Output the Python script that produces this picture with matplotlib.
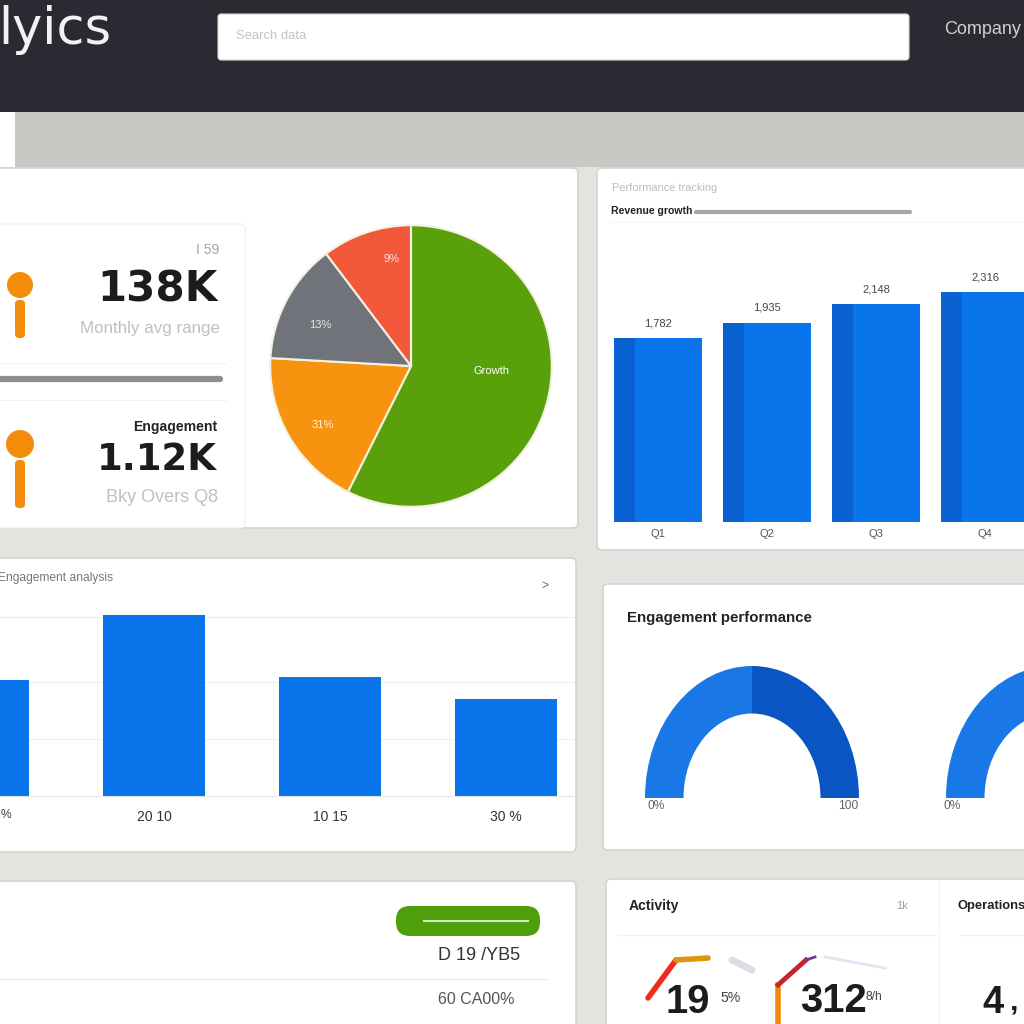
import math
import matplotlib
matplotlib.use("Agg")
import matplotlib.pyplot as plt
from matplotlib.patches import Rectangle, FancyBboxPatch, Circle

plt.rcParams['font.family'] = ['Liberation Sans', 'DejaVu Sans']

# ---- data ----
pie_labels = ["Growth", "31%", "13%", "9%"]
pie_values = [57.4, 18.5, 13.8, 10.3]
pie_colors = ["#5aa00a", "#f7930f", "#70747a", "#f2583a"]

top_bar_values = [184, 199, 218, 230]
top_bar_labels = ["1,782", "1,935", "2,148", "2,316"]
top_bar_ticks = ["Q1", "Q2", "Q3", "Q4"]

mid_bar_values = [116, 181, 119, 97]
mid_bar_ticks = ["", "20 10", "10 15", "30 %"]

gauge_values = [50, 50, 100]
gauge_colors = ["#1a78e6", "#0a55c4", "none"]

BLUE = "#0a74ea"
DARK_BLUE = "#0a62d2"
INK = "#1c1c1e"
GREY = "#a9a9a9"
DJ = "DejaVu Sans"

W = 1024
fig = plt.figure(figsize=(10.24, 10.24), dpi=100, facecolor="#e5e3e0")
bg = fig.add_axes([0, 0, 1, 1])
bg.set_xlim(0, W)
bg.set_ylim(W, 0)
bg.axis("off")


def inset(x0, y0, x1, y1):
    """Axes placed by its pixel box (top-left origin)."""
    ax = fig.add_axes([x0 / W, 1 - y1 / W, (x1 - x0) / W, (y1 - y0) / W])
    ax.patch.set_alpha(0)
    return ax


def panel(x0, y0, x1, y1, ec="#d4d3d0", lw=1.2, fc="white", r=5):
    bg.add_patch(FancyBboxPatch((x0, y0), x1 - x0, y1 - y0,
                                boxstyle=f"round,pad=0,rounding_size={r}",
                                fc=fc, ec=ec, lw=lw))


def label(x, y, s, px=11, color=GREY, ha="left", weight="normal", family=None):
    kw = {"family": family} if family else {}
    bg.text(x, y, s, fontsize=px * 0.72, color=color, ha=ha, va="center",
            fontweight=weight, **kw)


def pin(x, y0, y1, y2, r):
    bg.add_patch(FancyBboxPatch((x - 5, y1), 10, y2 - y1,
                                boxstyle="round,pad=0,rounding_size=4",
                                fc="#f28c0a", ec="none"))
    bg.add_patch(Circle((x, y0), r, fc="#f28c0a", ec="none"))


# header and band
bg.add_patch(Rectangle((0, 0), W, 112, fc="#2a2a33", ec="none"))
bg.add_patch(Rectangle((0, 112), W, 55, fc="#c9c8c4", ec="none"))
bg.add_patch(Rectangle((0, 112), 15, 55, fc="white", ec="none"))
bg.add_patch(FancyBboxPatch((218, 14), 691, 46, boxstyle="round,pad=0,rounding_size=3",
                            fc="white", ec="#d8d8d8", lw=0.8))
label(-2, 30, "lyics", px=51, color="#f2f2f2", family=DJ)
label(236, 36, "Search data", px=13, color="#c4c4c4")
label(944, 30, "Company", px=18, color="#d0d0d0")

# panels
panel(-8, 168, 578, 528)
panel(597, 168, 1040, 550)
panel(-8, 558, 576, 852)
panel(603, 584, 1040, 850)
panel(-8, 881, 576, 1040)
panel(606, 879, 1040, 1040)

# KPI cards
panel(-8, 224, 245, 528, ec="#f0f0f0", lw=0.8)
bg.plot([0, 226], [363, 363], color="#f2f2f2", lw=0.8)
bg.plot([0, 226], [400, 400], color="#f2f2f2", lw=0.8)
bg.plot([0, 220], [379, 379], color="#8e8e8e", lw=4.5, solid_capstyle="round")
pin(20, 285, 300, 338, 13)
pin(20, 444, 460, 508, 14)
label(219, 250, "I 59", px=14, color="#a5a5a5", ha="right")
label(218, 289, "138K", px=42, color=INK, ha="right", weight="bold", family=DJ)
label(220, 328, "Monthly avg range", px=17, color="#c0c0c0", ha="right")
label(217, 427, "Engagement", px=14, color="#222222", ha="right", weight="bold")
label(217, 459, "1.12K", px=37, color=INK, ha="right", weight="bold", family=DJ)
label(218, 497, "Bky Overs Q8", px=18, color="#c0c0c0", ha="right")

# pie
ax = inset(265, 221, 557, 511)
wedges, _, = ax.pie(pie_values, colors=pie_colors, startangle=90, counterclock=False,
                    radius=1.0, wedgeprops=dict(edgecolor="#f3f1e4", linewidth=1.5))
ax.set_xlim(-1.035, 1.035)
ax.set_ylim(-1.03, 1.03)
offsets = [(-0.03, 0.11), (-0.09, -0.11), (-0.10, 0.0), (0.06, 0.17)]
for w, s, (dx, dy), c in zip(wedges, pie_labels, offsets,
                             ["white", "#fff2d6", "#e8e8e8", "#ffe6df"]):
    a = math.radians((w.theta1 + w.theta2) / 2)
    ax.text(0.62 * math.cos(a) + dx, 0.62 * math.sin(a) + dy, s,
            fontsize=8, color=c, ha="center", va="center")

# top right bars
label(612, 188, "Performance tracking", px=11, color="#bdbdbd")
label(611, 211, "Revenue growth", px=10.5, color="#222222", weight="bold")
bg.plot([696, 910], [212, 212], color="#a6a6a6", lw=3, solid_capstyle="round")
bg.plot([610, 1024], [222, 222], color="#f4f4f4", lw=1)

ax = inset(603, 240, 1040, 522)
xs = list(range(len(top_bar_values)))
ax.bar(xs, top_bar_values, width=0.8, color=BLUE)
ax.bar([x - 0.4 for x in xs], top_bar_values, width=0.19, align="edge", color=DARK_BLUE)
ax.set_xlim(-0.505, 3.505)
ax.set_ylim(0, 282)
for s in ax.spines.values():
    s.set_visible(False)
ax.set_yticks([])
ax.set_xticks(xs, top_bar_ticks, fontsize=8, color="#555555")
ax.tick_params(length=0, pad=5)
for x, v, s in zip(xs, top_bar_values, top_bar_labels):
    ax.text(x, v + 15, s, fontsize=8, color="#444444", ha="center", va="center")

# middle left bars
label(-2, 578, "Engagement analysis", px=12, color="#777777")
label(548, 586, ">", px=12, color="#666666", ha="right")
ax = inset(-109, 590, 575, 796)
xs = list(range(len(mid_bar_values)))
ax.bar(xs, mid_bar_values, width=0.575, color=BLUE, zorder=3)
ax.set_xlim(-0.494, 3.392)
ax.set_ylim(0, 206)
ax.set_yticks([57, 114, 179], [])
ax.grid(axis="y", color="#f0f0f0", lw=1)
for s in ["top", "left", "right"]:
    ax.spines[s].set_visible(False)
ax.spines["bottom"].set_color("#e4e4e4")
ax.set_xticks(xs, mid_bar_ticks, fontsize=10, color="#333333")
ax.tick_params(length=0, pad=10)
label(1, 815, "%", px=12, color="#444444")

# half-donut gauges
label(627, 618, "Engagement performance", px=15, color="#222222", weight="bold")
for cx, rx in [(752, 107), (1053, 107)]:
    ax = inset(cx - rx, 666, cx + rx, 930)
    ax.pie(gauge_values, colors=gauge_colors, startangle=180, counterclock=False,
           radius=1.0, wedgeprops=dict(width=0.36, linewidth=0))
    ax.set_aspect("auto")
    ax.set_xlim(-1, 1)
    ax.set_ylim(-1, 1)
label(656, 806, "0%", px=12, color="#666666", ha="center")
label(848, 806, "100", px=12, color="#666666", ha="center")
label(952, 806, "0%", px=12, color="#666666", ha="center")

# bottom left card
bg.add_patch(FancyBboxPatch((396, 906), 144, 30, boxstyle="round,pad=0,rounding_size=14",
                            fc="#4f9f0a", ec="none"))
bg.plot([424, 528], [921, 921], color="#d5ecc0", lw=1.5)
label(520, 956, "D 19 /YB5", px=18, color="#333333", ha="right")
bg.plot([0, 548], [979, 979], color="#eeeeee", lw=1)
label(515, 1000, "60 CA00%", px=16, color="#555555", ha="right")

# bottom right card
label(629, 906, "Activity", px=14, color="#222222", weight="bold")
label(908, 906, "1k", px=11, color="#999999", ha="right")
label(957, 906, "Operations", px=13, color="#222222", weight="bold")
bg.plot([618, 936], [935, 935], color="#f0f0f0", lw=1)
bg.plot([939, 939], [880, 1024], color="#f4f4f4", lw=1)
bg.plot([960, 1024], [935, 935], color="#f0f0f0", lw=1)
bg.plot([648, 676], [998, 960], color="#ee2a1c", lw=4, solid_capstyle="round")
bg.plot([676, 708], [960, 958], color="#e0940f", lw=4, solid_capstyle="round")
bg.plot([732, 752], [960, 970], color="#dcdde2", lw=5, solid_capstyle="round")
bg.plot([778, 778], [1024, 985], color="#f08a0a", lw=4)
bg.plot([778, 806], [985, 960], color="#c8232c", lw=3.5)
bg.plot([806, 815], [960, 957], color="#6a3a9a", lw=2)
bg.plot([825, 885], [957, 968], color="#dfe6f2", lw=2)
label(665, 1002, "19", px=40, color=INK, weight="bold")
label(720, 998, "5%", px=14, color="#444444")
label(800, 1001, "312", px=40, color=INK, weight="bold")
label(866, 997, "8/h", px=12, color="#444444")
label(982, 1003, "4", px=38, color=INK, weight="bold")
label(1010, 1001, ",", px=30, color=INK, weight="bold")

fig.savefig("out.png", dpi=100, facecolor=fig.get_facecolor())
